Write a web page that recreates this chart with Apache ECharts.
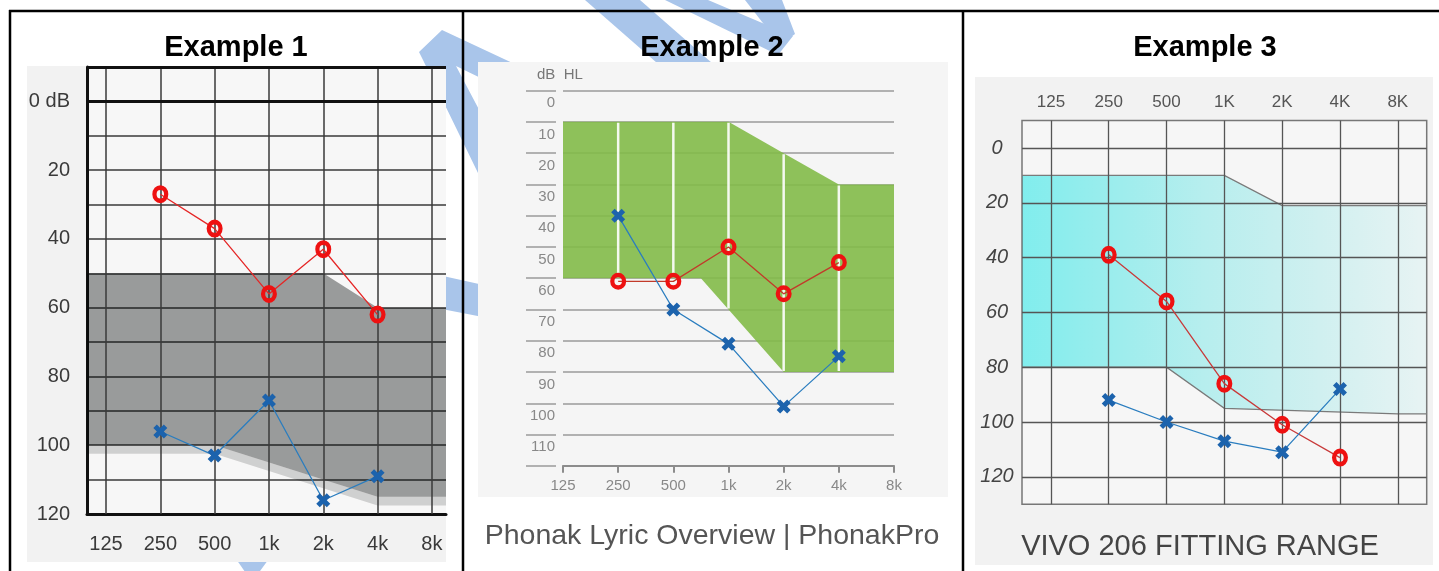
<!DOCTYPE html>
<html><head><meta charset="utf-8">
<script src="https://cdn.jsdelivr.net/npm/echarts@6/dist/echarts.min.js"></script>
<style>html,body{margin:0;padding:0;background:#fff}#c{width:1439px;height:571px}</style>
</head><body><div id="c"></div>
<script>
// ---------- data ----------
const freqLabels1 = ['125','250','500','1k','2k','4k','8k'];
const freqLabels3 = ['125','250','500','1K','2K','4K','8K'];
const testFreqs = ['250','500','1k','2k','4k'];
// Example 1
const ex1Right = [27,37,56,43,62];
const ex1Left  = [96,103,87,116,109];
const ex1BandTop    = [[0,50],[4,50],[5,60],[6,60]];
const ex1BandBottom = [[0,100],[2,100],[5,115],[6,115]];
// Example 2
const ex2Right = [61,61,50,65,55];
const ex2Left  = [40,70,81,101,85];
const ex2BandTop    = [[0,10],[3,10],[4,20],[5,30],[6,30]];
const ex2BandBottom = [[0,60],[2.5,60],[4,90],[6,90]];
// Example 3
const ex3Right = [39,56,86,101,113];
const ex3Left  = [92,100,107,111,88];
const ex3BandTop    = [[0,10],[3,10],[4,21],[6,21]];
const ex3BandBottom = [[0,80],[2,80],[3,95],[6,97]];
const ex3dBLines = [0,20,40,60,80,100,120];

// ---------- helpers ----------
const FONT = 'Liberation Sans, Arial, sans-serif';
const fIdx = f => freqLabels1.indexOf(f);
const pts = vals => testFreqs.map((f,i)=>[fIdx(f), vals[i]]);
const idx = freqLabels1.map((_,i)=>i);
const XPATH = 'path://M2.5,0L5,2.5L7.5,0L10,2.5L7.5,5L10,7.5L7.5,10L5,7.5L2.5,10L0,7.5L2.5,5L0,2.5Z';
const RING = 'path://M10,0A10,10,0,1,1,10,20A10,10,0,1,1,10,0ZM10,5.3A4.7,4.7,0,1,0,10,14.7A4.7,4.7,0,1,0,10,5.3Z';
function interp(arr, x){
  if (x <= arr[0][0]) return arr[0][1];
  for (let i=1;i<arr.length;i++){
    if (x <= arr[i][0]) { const a=arr[i-1], b=arr[i]; return a[1] + (b[1]-a[1])*(x-a[0])/(b[0]-a[0]); }
  }
  return arr[arr.length-1][1];
}
function bandRender(top, bottom, xMin, xMax, style, white, fade){
  return function(params, api){
    const ext = arr => [[xMin, arr[0][1]]].concat(arr, [[xMax, arr[arr.length-1][1]]]);
    const t = ext(top).map(p=>api.coord(p));
    const b = ext(bottom).map(p=>api.coord(p)).reverse();
    const children = [{type:'polygon', shape:{points:t.concat(b)}, style:style}];
    if (fade) {
      const b1 = ext(bottom).map(p=>api.coord(p));
      const b2 = ext(bottom).map(p=>api.coord([p[0], p[1]+fade])).reverse();
      children.push({type:'polygon', shape:{points:b1.concat(b2)}, style:{fill:'rgba(0,6,6,0.16)'}});
    }
    if (white) white.forEach(x=>{
      const p1 = api.coord([x, interp(top,x)]), p2 = api.coord([x, interp(bottom,x)]);
      children.push({type:'line', shape:{x1:p1[0],y1:p1[1]+1,x2:p2[0],y2:p2[1]-1}, style:{stroke:'rgba(255,255,255,0.9)', lineWidth:2.5}});
    });
    return {type:'group', children};
  };
}
const redLine = (xi, yi, data, lineColor, size, ml) => ({
  type:'line', xAxisIndex:xi, yAxisIndex:yi, data, z:6, silent:true, animation:false,
  symbol:RING, symbolSize:size, itemStyle:{color:'#ee1111'},
  lineStyle:{color:lineColor, width:1.3}, markLine: ml
});
const blueLine = (xi, yi, data) => ({
  type:'line', xAxisIndex:xi, yAxisIndex:yi, data, z:7, silent:true, animation:false,
  symbol:XPATH, symbolSize:14, itemStyle:{color:'#1c63ad'}, lineStyle:{color:'#2a7dbf', width:1.3}
});
const vLines = (color, width) => idx.map(i=>({xAxis:i, lineStyle:{color, width, type:'solid'}}));
const WM = '#a9c5ea';

const option = {
  animation:false,
  title:[
    {text:'Example 1', left:231, top:28, textAlign:'center', textStyle:{fontSize:29, fontWeight:'bold', color:'#000', fontFamily:FONT}},
    {text:'Example 2', left:707, top:28, textAlign:'center', textStyle:{fontSize:29, fontWeight:'bold', color:'#000', fontFamily:FONT}},
    {text:'Example 3', left:1200, top:28, textAlign:'center', textStyle:{fontSize:29, fontWeight:'bold', color:'#000', fontFamily:FONT}},
    {text:'Phonak Lyric Overview | PhonakPro', left:707, top:517, textAlign:'center', textStyle:{fontSize:28.5, fontWeight:'normal', color:'#555', fontFamily:FONT}},
    {text:'VIVO 206 FITTING RANGE', left:1195, top:527, textAlign:'center', textStyle:{fontSize:29, fontWeight:'normal', color:'#444', fontFamily:FONT}},
    {text:'dB  HL', left:532, top:62, textStyle:{fontSize:15, fontWeight:'normal', color:'#777', fontFamily:FONT}}
  ],
  graphic:[
    // watermark
    {type:'polygon', silent:true, z:1, shape:{points:[[419,52],[442,30],[660,132],[660,165],[456,66],[532,210],[496,210],[423,60]]}, style:{fill:WM}},
    {type:'polygon', silent:true, z:1, shape:{points:[[380,262],[560,302],[560,332],[380,297]]}, style:{fill:WM}},
    {type:'polygon', silent:true, z:1, shape:{points:[[585,0],[640,0],[720,70],[665,70]]}, style:{fill:WM}},
    {type:'polygon', silent:true, z:1, shape:{points:[[665,0],[708,0],[793,36],[778,55]]}, style:{fill:WM}},
    {type:'polygon', silent:true, z:1, shape:{points:[[745,0],[782,0],[795,34],[780,45]]}, style:{fill:WM}},
    {type:'polygon', silent:true, z:1, shape:{points:[[234,556],[271,556],[252,582]]}, style:{fill:WM}},
    // chart image backgrounds
    {type:'rect', silent:true, z:2, shape:{x:27,y:66,width:419,height:496}, style:{fill:'#f2f2f2'}},
    {type:'rect', silent:true, z:2, shape:{x:478,y:62,width:470,height:435}, style:{fill:'#f5f5f5'}},
    {type:'rect', silent:true, z:2, shape:{x:975,y:77,width:458,height:488}, style:{fill:'#f2f2f2'}},
    // table lines
    {type:'line', silent:true, z:50, shape:{x1:9,y1:11,x2:1439,y2:11}, style:{stroke:'#000', lineWidth:2.5}},
    {type:'line', silent:true, z:50, shape:{x1:10,y1:10,x2:10,y2:571}, style:{stroke:'#000', lineWidth:2.5}},
    {type:'line', silent:true, z:50, shape:{x1:463,y1:10,x2:463,y2:571}, style:{stroke:'#000', lineWidth:2.5}},
    {type:'line', silent:true, z:50, shape:{x1:963,y1:10,x2:963,y2:571}, style:{stroke:'#000', lineWidth:2.5}}
  ],
  grid:[
    {left:87, top:67, width:359, height:447, z:3, show:true, borderWidth:0, backgroundColor:'#f7f7f7'},
    {left:563, top:90.6, width:331, height:375.2, z:3},
    {left:1022, top:120.6, width:404.7, height:383.6, z:3, show:true, borderColor:'#777', borderWidth:1.5, backgroundColor:'#f6f6f6'}
  ],
  xAxis:[
    {gridIndex:0, type:'value', min:-0.35, max:6.26, z:3,
     axisLine:{show:true, onZero:false, lineStyle:{color:'#111', width:3}},
     axisTick:{show:false, customValues:idx},
     axisLabel:{customValues:idx, formatter:v=>freqLabels1[Math.round(v)], margin:20, fontSize:20, color:'#3a3a3a', fontFamily:FONT},
     splitLine:{show:false}},
    {gridIndex:1, type:'value', min:0, max:6, interval:1, z:3,
     axisLine:{show:true, onZero:false, lineStyle:{color:'#8c8c8c', width:2}},
     axisTick:{show:true, length:7, lineStyle:{color:'#8c8c8c', width:2}},
     axisLabel:{formatter:v=>freqLabels1[v], margin:13, fontSize:15, color:'#888', fontFamily:FONT},
     splitLine:{show:false}},
    {gridIndex:2, type:'value', position:'top', min:-0.5, max:6.5, z:3,
     axisLine:{show:false, onZero:false},
     axisTick:{show:false, customValues:idx},
     axisLabel:{customValues:idx, formatter:v=>freqLabels3[Math.round(v)], margin:10, fontSize:17, color:'#555', fontFamily:FONT},
     splitLine:{show:false}}
  ],
  yAxis:[
    {gridIndex:0, type:'value', inverse:true, min:-10, max:120, interval:10, z:3,
     axisLine:{show:true, onZero:false, lineStyle:{color:'#111', width:3}},
     axisTick:{show:false},
     axisLabel:{formatter:v=> v===0 ? '0 dB' : (v>0 && v%20===0 ? String(v) : ''), margin:17, fontSize:20, color:'#3a3a3a', fontFamily:FONT},
     splitLine:{show:true, lineStyle:{color:'#3a3a3a', width:1.5}}},
    {gridIndex:1, type:'value', inverse:true, min:0, max:120, interval:10, offset:7, z:3,
     axisLine:{show:false, onZero:false},
     axisTick:{show:true, length:30, lineStyle:{color:'#9a9a9a', width:1.5}},
     axisLabel:{formatter:v=> v<120 ? String(v) : '', align:'right', verticalAlign:'top', margin:1, padding:[5,0,0,0], fontSize:15, color:'#888', fontFamily:FONT},
     splitLine:{show:true, lineStyle:{color:'#9a9a9a', width:1.5}}},
    {gridIndex:2, type:'value', inverse:true, min:-10, max:130, interval:10, z:3,
     axisLine:{show:false, onZero:false},
     axisTick:{show:false},
     axisLabel:{formatter:v=> (v>=0 && v<=120 && v%20===0) ? String(v) : '', align:'center', margin:25, fontSize:20, fontStyle:'italic', color:'#444', fontFamily:FONT},
     splitLine:{show:false}}
  ],
  series:[
    // Example 1
    {type:'custom', xAxisIndex:0, yAxisIndex:0, z:4, silent:true, clip:true, data:[[0,0]],
     renderItem: bandRender(ex1BandTop, ex1BandBottom, -0.35, 6.26, {fill:'rgba(0,6,6,0.38)'}, null, 2.5)},
    redLine(0,0, pts(ex1Right), '#e52626', [16,18], {silent:true, symbol:['none','none'], label:{show:false}, animation:false,
      data: vLines('#3a3a3a',1.5).concat([{yAxis:0, lineStyle:{color:'#111', width:3, type:'solid'}},{yAxis:-10, lineStyle:{color:'#111', width:3, type:'solid'}}])}),
    blueLine(0,0, pts(ex1Left)),
    // Example 2
    {type:'custom', xAxisIndex:1, yAxisIndex:1, z:4, silent:true, clip:true, data:[[0,0]],
     renderItem: bandRender(ex2BandTop, ex2BandBottom, 0, 6, {fill:'rgba(131,187,73,0.9)'}, [1,2,3,4,5])},
    redLine(1,1, pts(ex2Right), '#c23a2a', [16,17]),
    blueLine(1,1, pts(ex2Left)),
    // Example 3
    {type:'custom', xAxisIndex:2, yAxisIndex:2, z:4, silent:true, clip:true, data:[[0,0]],
     renderItem: bandRender(ex3BandTop, ex3BandBottom, -0.5, 6.5, {
       fill:{type:'linear', x:0, y:0, x2:1, y2:0, colorStops:[
         {offset:0, color:'rgba(0,228,228,0.48)'},{offset:0.45, color:'rgba(0,215,215,0.26)'},{offset:1, color:'rgba(0,200,200,0.06)'}]},
       stroke:'#7a7a7a', lineWidth:1.3})},
    redLine(2,2, pts(ex3Right), '#c83a3a', [16,18], {silent:true, symbol:['none','none'], label:{show:false}, animation:false,
      data: vLines('#555',1.3).concat(ex3dBLines.map(v=>({yAxis:v, lineStyle:{color:'#555', width:1.3, type:'solid'}})))}),
    blueLine(2,2, pts(ex3Left))
  ]
};
const chart = echarts.init(document.getElementById('c'), null, {renderer:'canvas'});
chart.setOption(option);
</script></body></html>
